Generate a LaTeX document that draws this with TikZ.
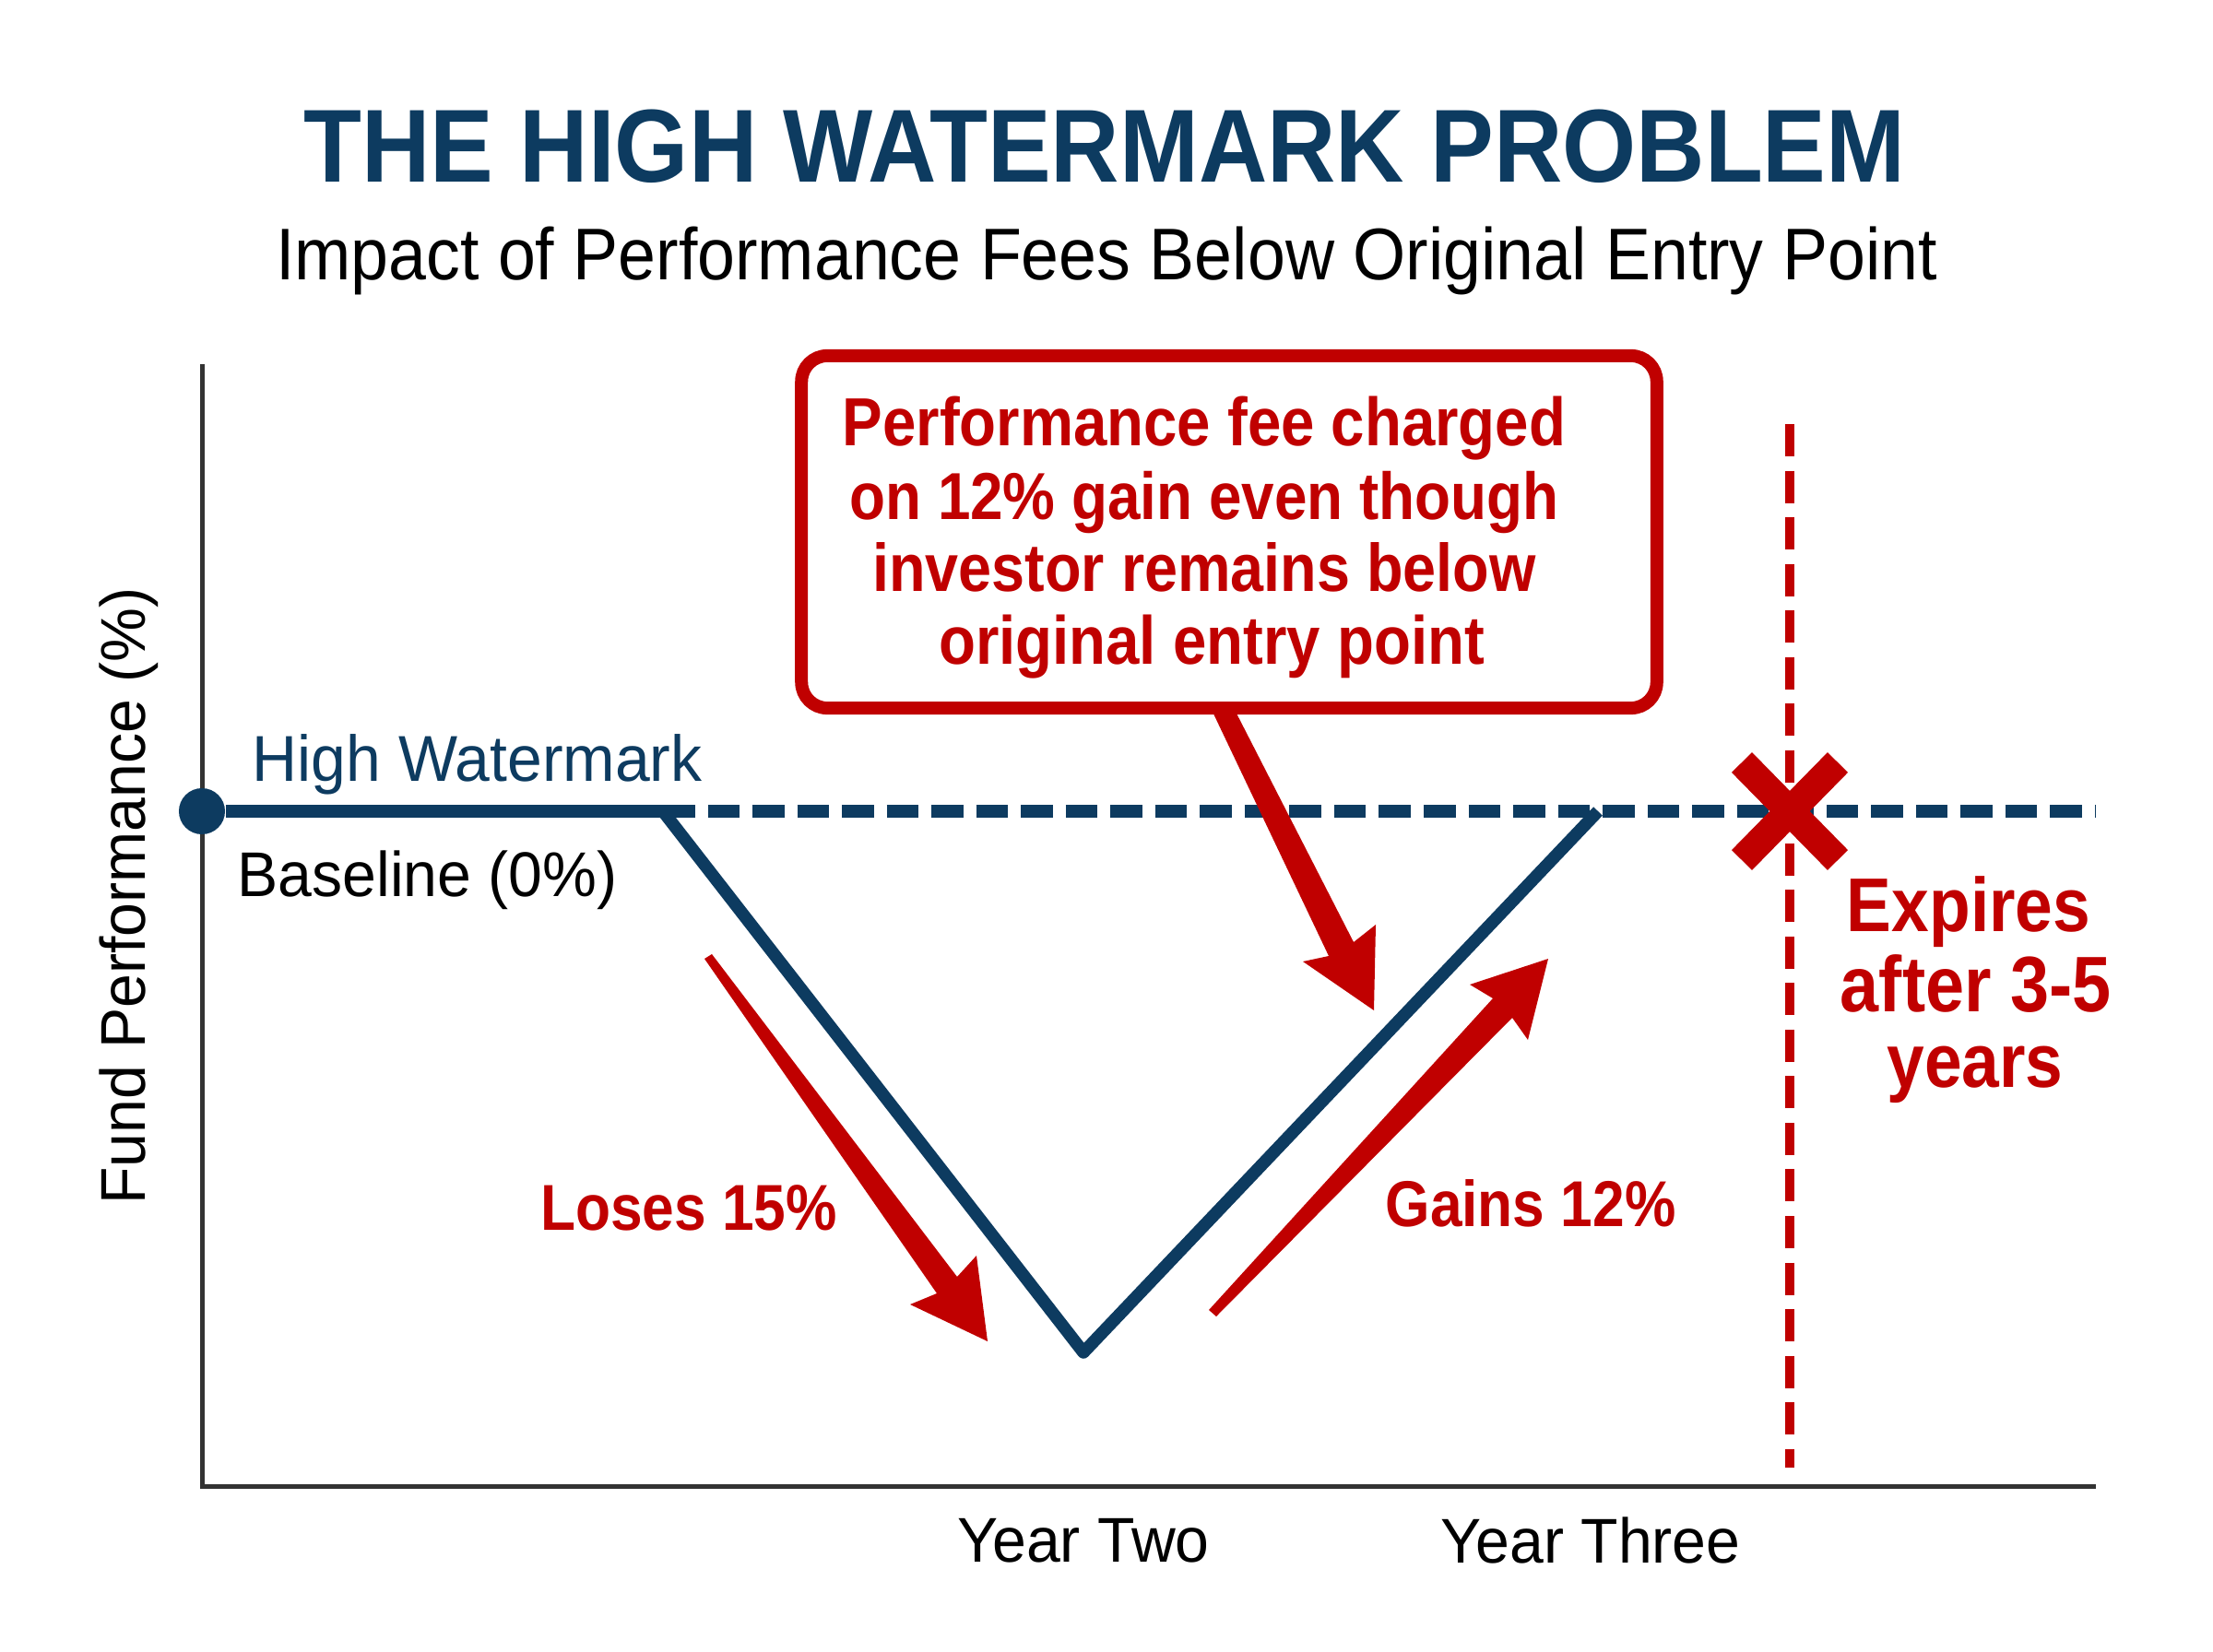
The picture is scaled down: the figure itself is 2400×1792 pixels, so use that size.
\documentclass[tikz,border=0pt]{standalone}
\usepackage{fontspec}
\usepackage{tikz}
\usetikzlibrary{positioning, calc}
\setmainfont{Liberation Sans}
\newfontfamily\wmtitlefont[FakeStretch=0.915]{Liberation Sans}
\newfontfamily\wmsubfont[FakeStretch=0.925]{Liberation Sans}
\newfontfamily\wmaxisfont[FakeStretch=0.965]{Liberation Sans}
\newfontfamily\wmredfont[FakeStretch=0.885]{Liberation Sans}

\definecolor{wmnavy}{HTML}{0D3B60}
\definecolor{wmred}{HTML}{C00000}
\definecolor{wmaxis}{HTML}{333333}

\tikzset{
    titletext/.style={font=\wmtitlefont\bfseries\fontsize{32}{36}\selectfont, text=wmnavy},
    subtitletext/.style={font=\wmsubfont\fontsize{22.6}{26}\selectfont, text=black},
    axistext/.style={font=\wmaxisfont\fontsize{19.5}{23}\selectfont, text=black},
    redtext/.style={font=\wmredfont\bfseries\fontsize{#1}{#1}\selectfont, text=wmred, align=center},
    redtext/.default=19,
    axisline/.style={draw=wmaxis, line width=0.05cm},
    wmsolid/.style={draw=wmnavy, line width=0.14cm},
    wmvee/.style={draw=wmnavy, line width=0.135cm, line join=round},
    wmdash/.style={draw=wmnavy, line width=0.14cm, dash pattern=on 0.345cm off 0.14cm},
    expiry/.style={draw=wmred, line width=0.095cm, dash pattern=on 0.35cm off 0.155cm},
    crossarm/.style={draw=wmred, line width=0.31cm},
    redfill/.style={fill=wmred},
    calloutbox/.style={draw=wmred, line width=0.14cm, rounded corners=0.28cm, fill=white,
        minimum width=9.27cm, minimum height=3.82cm}
}

\begin{document}
\begin{tikzpicture}[x=0.01cm, y=0.01cm]
    \tikzstyle{every node}+=[inner sep=0pt]
    \useasboundingbox (0,0) rectangle (2400,-1792);
    % headings
    \node [titletext] (title) at (1198,-159) {THE HIGH WATERMARK PROBLEM};
    \node [subtitletext] (subtitle) at (1200,-283) {Impact of Performance Fees Below Original Entry Point};
    % axes
    \coordinate (axisTop) at (219,-395);
    \coordinate (origin) at (219,-1612);
    \coordinate (axisEnd) at (2273,-1612);
    \draw [axisline] (axisTop) -- (origin) -- (axisEnd);
    \node [axistext, rotate=90] (ylabel) at (140,-972) {Fund Performance (\%)};
    \node [axistext] (yearTwo) at (1175,-1671) {Year Two};
    \node [axistext] (yearThree) at (1725,-1671) {Year Three};
    % watermark and fund path
    \node [circle, fill=wmnavy, minimum size=0.5cm] (baseDot) at (219,-880) {};
    \coordinate (drop) at (719,-880);
    \coordinate (trough) at (1175,-1467);
    \coordinate (rise) at (1733,-880);
    \coordinate (wmEnd) at (2273,-880);
    \draw [wmdash] (drop) -- (wmEnd);
    \draw [wmsolid] (baseDot) -- (drop);
    \draw [wmvee] (drop) -- (trough) -- (rise);
    \node [axistext, text=wmnavy, anchor=west] (wmLabel) at (273,-829) {\fontsize{20}{23}\selectfont High Watermark};
    \node [axistext, anchor=west] (baseLabel) at (257,-955) {Baseline (0\%)};
    % expiry line
    \coordinate (expiryTop) at (1941,-460);
    \coordinate (expiryEnd) at (1941,-1592);
    \draw [expiry] (expiryTop) -- (expiryEnd);
    \coordinate (crossA) at (1889,-827);
    \coordinate (crossB) at (1993,-933);
    \coordinate (crossC) at (1993,-827);
    \coordinate (crossD) at (1889,-933);
    \draw [crossarm] (crossA) -- (crossB);
    \draw [crossarm] (crossC) -- (crossD);
    \node [redtext=23.5] (expiresLabel) at (2135,-989) {Expires};
    \node [redtext=24.3] (afterLabel) at (2143,-1067) {after 3-5};
    \node [redtext=23.5] (yearsLabel) at (2142,-1166) {years};
    % callout
    \fill [redfill] (1314,-770) -- (1441,-1037) -- (1413,-1043) -- (1490,-1096) -- (1492,-1003) -- (1468,-1022) -- (1339,-770) -- cycle;
    \node [calloutbox] (callout) at (1333,-577) {};
    \node [redtext=21] (feeA) at (1306,-465) {Performance fee charged};
    \node [redtext=20.5] (feeB) at (1306,-545) {on 12\% gain even though};
    \node [redtext=20.8] (feeC) at (1306,-615) {investor remains below};
    \node [redtext=21] (feeD) at (1314,-702) {original entry point};
    % loss and gain arrows
    \fill [redfill] (764,-1040) -- (1016,-1403) -- (987,-1415) -- (1071,-1455) -- (1059,-1362) -- (1038,-1385) -- (772,-1035) -- cycle;
    \node [redtext=20] (lossLabel) at (747,-1310) {Loses 15\%};
    \fill [redfill] (1311,-1421) -- (1619,-1083) -- (1594,-1068) -- (1679,-1040) -- (1657,-1128) -- (1640,-1104) -- (1319,-1428) -- cycle;
    \node [redtext=20] (gainLabel) at (1660,-1305) {Gains 12\%};
\end{tikzpicture}
\end{document}
